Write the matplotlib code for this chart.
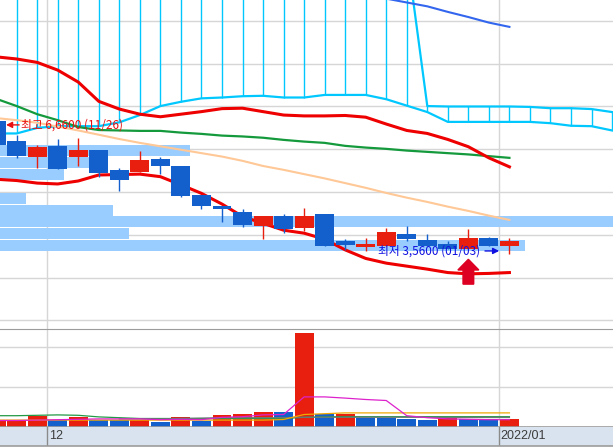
import numpy as np
import matplotlib
matplotlib.use("Agg")
import matplotlib.pyplot as plt
from matplotlib.patches import Rectangle
from matplotlib.transforms import blended_transform_factory, offset_copy

plt.rcParams['font.family'] = ['Noto Sans CJK KR', 'DejaVu Sans']

# ---------------- data ----------------
# session index: -1 = 11/26, 0 = 11/29 ... 24 = 2022/01/03
candle_idx = list(range(-1, 25))
opens  = [6.66, 6.19, 5.83, 6.08, 5.83, 5.98, 5.52, 5.47, 5.77, 5.61, 4.93, 4.68, 4.54,
          4.21, 4.44, 4.17, 4.49, 3.86, 3.72, 3.75, 4.02, 3.88, 3.79, 3.67, 3.93, 3.74]
closes = [6.10, 5.85, 6.05, 5.55, 5.98, 5.45, 5.28, 5.75, 5.62, 4.91, 4.68, 4.61, 4.24,
          4.44, 4.14, 4.43, 3.75, 3.76, 3.79, 4.07, 3.90, 3.74, 3.67, 3.93, 3.74, 3.86]
highs  = [6.66, 6.33, 6.10, 6.24, 6.26, 5.98, 5.56, 5.96, 5.83, 5.61, 4.93, 4.68, 4.61,
          4.44, 4.49, 4.63, 4.49, 3.90, 3.93, 4.16, 4.21, 4.02, 3.86, 4.14, 3.95, 3.93]
lows   = [6.05, 5.80, 5.56, 5.54, 5.62, 5.36, 5.03, 5.47, 5.42, 4.89, 4.61, 4.31, 4.19,
          3.90, 4.05, 4.10, 3.75, 3.65, 3.63, 3.75, 3.86, 3.74, 3.67, 3.67, 3.74, 3.56]

band_upper = [8.16, 8.11, 8.03, 7.85, 7.57, 7.12, 6.94, 6.82, 6.76, 6.82, 6.88, 6.95, 6.96,
              6.88, 6.80, 6.78, 6.78, 6.79, 6.75, 6.59, 6.44, 6.37, 6.23, 6.06, 5.80, 5.59]
band_lower = [5.30, 5.27, 5.21, 5.19, 5.26, 5.40, 5.41, 5.42, 5.36, 5.17, 4.97, 4.72, 4.43,
              4.27, 4.11, 4.04, 3.90, 3.65, 3.45, 3.34, 3.27, 3.20, 3.12, 3.09, 3.10, 3.12]
ma_green   = [7.18, 7.01, 6.82, 6.68, 6.52, 6.45, 6.44, 6.43, 6.43, 6.39, 6.36, 6.32, 6.30,
              6.27, 6.22, 6.18, 6.15, 6.08, 6.04, 6.01, 5.97, 5.94, 5.91, 5.88, 5.84, 5.80]
ma_orange  = [6.73, 6.68, 6.62, 6.53, 6.44, 6.34, 6.24, 6.15, 6.07, 5.99, 5.91, 5.83, 5.73,
              5.61, 5.52, 5.42, 5.32, 5.21, 5.10, 4.98, 4.87, 4.77, 4.66, 4.56, 4.45, 4.35]

blue_idx  = [17, 18, 19, 20, 21, 22, 23, 24]
blue_line = [9.63, 9.52, 9.43, 9.34, 9.21, 9.09, 8.96, 8.86]

cloud_idx = list(range(-1, 30))
span_a = [6.37, 6.37, 6.50, 6.54, 6.54, 6.54, 6.63, 6.80, 7.01, 7.11, 7.19, 7.21, 7.24,
          7.25, 7.21, 7.21, 7.27, 7.27, 7.27, 7.17, 7.02, 6.87, 6.64, 6.64, 6.64, 6.64,
          6.64, 6.61, 6.55, 6.54, 6.44]
span_b = [10.6, 10.6, 10.6, 10.6, 10.6, 10.6, 10.6, 10.6, 10.6, 10.6, 10.6, 10.6, 10.6,
          10.6, 10.6, 10.6, 10.6, 10.6, 10.6, 10.6, 10.6, 7.01, 7.00, 7.00, 7.00, 7.00,
          6.99, 6.96, 6.96, 6.94, 6.87]

profile_price = [5.97, 5.69, 5.41, 5.14, 4.86, 4.58, 4.31, 4.03, 3.75]
profile_vol   = [31, 16, 10.5, 0, 4.2, 18.4, 100, 21, 85.6]

volume  = [0.14, 0.14, 0.26, 0.17, 0.25, 0.17, 0.17, 0.17, 0.125, 0.25, 0.15, 0.30, 0.325,
           0.375, 0.375, 2.35, 0.32, 0.31, 0.21, 0.21, 0.18, 0.16, 0.21, 0.18, 0.18, 0.18]
vol_up  = [1, 1, 1, 0, 1, 0, 0, 1, 0, 1, 0, 1, 1, 1, 0, 1, 0, 1, 0, 0, 0, 0, 1, 0, 0, 1]
vma_mag = [0.15, 0.15, 0.16, 0.17, 0.18, 0.19, 0.19, 0.19, 0.17, 0.18, 0.17, 0.23, 0.245,
           0.29, 0.30, 0.74, 0.74, 0.71, 0.675, 0.65, 0.27, 0.22, 0.19, 0.18, 0.17, 0.17]
vma_org = [0.16, 0.16, 0.16, 0.16, 0.16, 0.16, 0.16, 0.16, 0.16, 0.16, 0.16, 0.16, 0.16,
           0.16, 0.175, 0.30, 0.32, 0.34, 0.34, 0.34, 0.34, 0.34, 0.34, 0.34, 0.34, 0.34]
vma_grn = [0.27, 0.27, 0.28, 0.29, 0.28, 0.24, 0.22, 0.20, 0.20, 0.20, 0.20, 0.20, 0.20,
           0.20, 0.20, 0.23, 0.24, 0.245, 0.245, 0.245, 0.245, 0.245, 0.245, 0.245, 0.245, 0.245]
vma_gry_idx = list(range(5, 25))
vma_gry = [0.19, 0.19, 0.19, 0.20, 0.21, 0.22, 0.22, 0.22, 0.22, 0.23, 0.23, 0.23, 0.23,
           0.23, 0.23, 0.23, 0.225, 0.225, 0.225, 0.225]

month_breaks = [1.5, 23.5]
month_labels = ['12', '2022/01']

hi_price, hi_date, hi_idx = 6.66, '11/26', -1
lo_price, lo_date, lo_idx = 3.56, '01/03', 24
buy_signal_idx = 22

# ---------------- styles ----------------
RED_C, BLUE_C = '#e81e0e', '#1360cc'
CYAN = '#00c8ff'
GRID = '#d6d6d6'
W, H = 613, 448
PX = 20.53  # pixels per session
X0 = 16.7   # pixel of session 0
xlim = (-X0 / PX, (W - X0) / PX)

fig = plt.figure(figsize=(W / 100, H / 100), dpi=100)

def rect(y0, y1):
    return [0, (H - y1) / H, 1, (y1 - y0) / H]

ax = fig.add_axes(rect(0, 329))
axv = fig.add_axes(rect(329, 426.5))
axb = fig.add_axes(rect(426.5, 445.5))

for a in (ax, axv, axb):
    a.set_xlim(*xlim)
    for s in a.spines.values():
        s.set_visible(False)
    a.tick_params(length=0, labelleft=False, labelbottom=False)

# ---- main panel ----
ax.set_ylim(1.8014, 9.488)
ax.set_yticks(range(2, 10))
ax.set_xticks(month_breaks)
ax.grid(True, color=GRID, lw=1.0, zorder=0)
ax.set_axisbelow(True)

trans = blended_transform_factory(ax.transAxes, ax.transData)
vmax = max(profile_vol)
for p, v in zip(profile_price, profile_vol):
    if v > 0:
        ax.add_patch(Rectangle((0, p - 0.128), v / vmax, 0.256, transform=trans,
                               facecolor='#99ccff', edgecolor='none', zorder=1))

# ichimoku cloud hatch
lo_c = np.minimum(span_a, span_b)
hi_c = np.maximum(span_a, span_b)
ax.vlines(cloud_idx, lo_c, hi_c, colors=CYAN, lw=1.0, zorder=2)
ax.plot(cloud_idx, span_a, color=CYAN, lw=1.6, zorder=2.2)
ax.plot(cloud_idx, span_b, color=CYAN, lw=1.6, zorder=2.2)

ax.plot(candle_idx, ma_orange, color='#ffc896', lw=1.5, zorder=3)
ax.plot(candle_idx, ma_green, color='#149a3c', lw=1.6, zorder=3)
ax.plot(candle_idx, band_upper, color='#ee0000', lw=2.2, zorder=3.2)
ax.plot(candle_idx, band_lower, color='#ee0000', lw=2.2, zorder=3.2)
ax.plot(blue_idx, blue_line, color='#3366ee', lw=1.5, zorder=3)

cols = [RED_C if c >= o else BLUE_C for o, c in zip(opens, closes)]
ax.vlines(candle_idx, lows, highs, colors=cols, lw=1.0, zorder=5)
bottoms = np.minimum(opens, closes)
heights = np.abs(np.array(closes) - np.array(opens))
ax.bar(candle_idx, heights, bottom=bottoms, width=0.925, color=cols, zorder=5.1)

# high / low annotations
fmt = lambda v: f"{v:.4f}".replace('.', ',')
y_hi = hi_price - 0.09
ax.annotate('', xy=(hi_idx + 0.48, y_hi), xytext=(hi_idx + 1.12, y_hi),
            arrowprops=dict(arrowstyle='-|>', color='#e81010', lw=1.0,
                            mutation_scale=9, shrinkA=0, shrinkB=0), zorder=7)
ax.text(hi_idx + 1.2, y_hi, f"최고 {fmt(hi_price)} ({hi_date})", color='#e81010',
        fontsize=8.5, va='center', ha='left', zorder=7)

y_lo = lo_price + 0.065
ax.annotate('', xy=(lo_idx - 0.5, y_lo), xytext=(lo_idx - 1.19, y_lo),
            arrowprops=dict(arrowstyle='-|>', color='#1010e0', lw=1.0,
                            mutation_scale=9, shrinkA=0, shrinkB=0), zorder=7)
ax.text(lo_idx - 1.45, y_lo, f"최저 {fmt(lo_price)} ({lo_date})", color='#1010e0',
        fontsize=8.5, va='center', ha='right', zorder=7)

# buy signal arrow
tip = lows[buy_signal_idx + 1] - 0.24
ax.arrow(buy_signal_idx, tip - 0.58, 0, 0.58, width=0.52, head_width=1.02,
         head_length=0.25, length_includes_head=True, color='#dd0022',
         zorder=7)

# ---- volume panel ----
axv.set_ylim(0, 97.5 / 40)
axv.set_yticks([1, 2])
axv.set_xticks(month_breaks)
axv.grid(True, color=GRID, lw=1.0, zorder=0)
axv.set_axisbelow(True)
axv.spines['top'].set_visible(True)
axv.spines['top'].set_color('#9c9c9c')
axv.spines['bottom'].set_visible(True)
axv.spines['bottom'].set_color('#9c9c9c')
axv.spines['bottom'].set_linewidth(1.2)
vcols = [RED_C if u else BLUE_C for u in vol_up]
axv.bar(candle_idx, volume, width=0.925, color=vcols, zorder=2)
axv.plot(candle_idx, vma_grn, color='#229944', lw=0.9, zorder=3)
axv.plot(vma_gry_idx, vma_gry, color='#6c7878', lw=0.9, zorder=3)
axv.plot(candle_idx, vma_org, color='#f0a800', lw=0.9, zorder=3)
axv.plot(candle_idx, vma_mag, color='#dd22cc', lw=0.9, zorder=3)

# ---- date band ----
axb.set_facecolor('#d9e3ef')
axb.set_ylim(0, 1)
axb.spines['bottom'].set_visible(True)
axb.spines['bottom'].set_color('#9c9c9c')
axb.spines['bottom'].set_linewidth(1.2)
for xb, lab in zip(month_breaks, month_labels):
    axb.axvline(xb, color='#8a8a8a', lw=1.0)
    axb.text(xb + 0.07, 0.48, lab, fontsize=9, color='#3c3c3c', va='center',
             ha='left', family=['Liberation Sans', 'DejaVu Sans'])

fig.savefig('out.png', dpi=100)
